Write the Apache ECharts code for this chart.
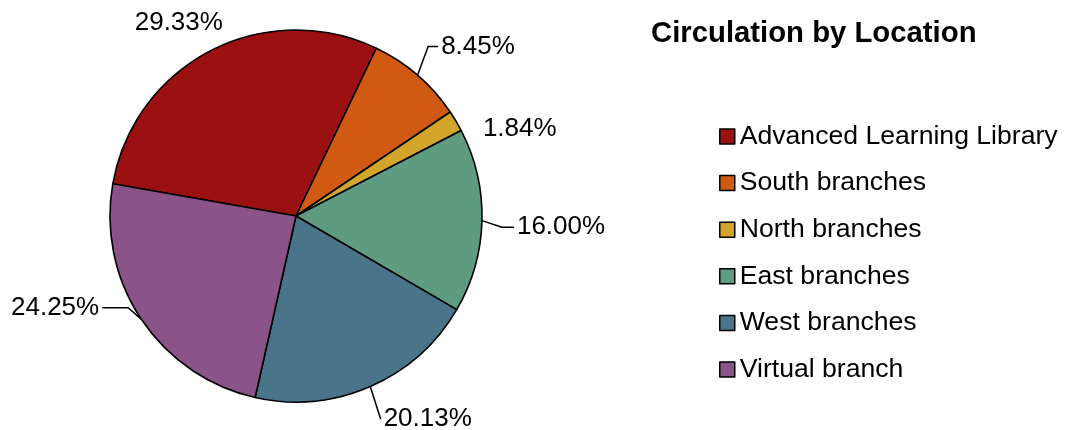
<!DOCTYPE html>
<html>
<head>
<meta charset="utf-8">
<title>Circulation by Location</title>
<script src="https://cdn.jsdelivr.net/npm/echarts@6/dist/echarts.min.js"></script>
<style>
  html, body { margin: 0; padding: 0; background: #ffffff; }
  #chart { width: 1065px; height: 430px; }
</style>
</head>
<body>
<div id="chart"></div>
<script>
// Share of circulation by location (percent)
const locations = [
  'Advanced Learning Library',
  'South branches',
  'North branches',
  'East branches',
  'West branches',
  'Virtual branch'
];
const shares = [29.33, 8.45, 1.84, 16.00, 20.13, 24.25];
const sliceColors = ['#9B1111', '#D05A11', '#D3A52A', '#5F9B80', '#4A7489', '#8B5488'];

// Leader line settings per slice: [show, length, length2]
const leaders = [
  [false, 22, 0],
  [true, 30, 10],
  [false, 22, 0],
  [true, 20, 12],
  [true, 31, 0],
  [true, 12, 26]
];

// Small label nudges per slice: [dx, dy]
const labelNudges = [
  [25, -8],
  [-9, -6],
  [5, 19],
  [0, 6],
  [-2, 4],
  [-3, -18]
];

const FONT = 'Arial, "Liberation Sans", Helvetica, sans-serif';
const LINE_GAP = 3;

const chart = echarts.init(document.getElementById('chart'), null, { renderer: 'canvas' });

// Re-route a leader line so it ends at the nudged label: keep the point on the
// slice edge, then run a horizontal tail of length2 into the label's side.
function layoutLabel(params) {
  const i = params.dataIndex;
  const n = labelNudges[i];
  const out = { dx: n[0], dy: n[1] };
  const pts = params.labelLinePoints;
  if (leaders[i][0] && pts && pts.length) {
    const r = params.labelRect;
    const onRight = pts[0][0] < r.x + r.width / 2;
    const y = r.y + n[1] + r.height / 2;
    const endX = onRight ? r.x + n[0] - LINE_GAP : r.x + r.width + n[0] + LINE_GAP;
    const midX = onRight ? endX - leaders[i][2] : endX + leaders[i][2];
    out.labelLinePoints = [[pts[0][0], pts[0][1]], [midX, y], [endX, y]];
  }
  return out;
}

chart.setOption({
  animation: false,
  backgroundColor: '#ffffff',
  title: {
    text: 'Circulation by Location',
    left: 651,
    top: 19,
    padding: 0,
    textStyle: { fontFamily: FONT, fontSize: 29.3, fontWeight: 'bold', color: '#000000' }
  },
  legend: {
    orient: 'vertical',
    left: 719,
    top: 123,
    padding: 0,
    itemWidth: 15,
    itemHeight: 15,
    itemGap: 19.6,
    icon: 'rect',
    selectedMode: false,
    data: locations,
    textStyle: { fontFamily: FONT, fontSize: 26.6, color: '#000000' },
    itemStyle: { borderColor: '#000000', borderWidth: 1.5 }
  },
  series: [{
    type: 'pie',
    center: [296, 216],
    radius: 186,
    startAngle: 170,
    clockwise: true,
    avoidLabelOverlap: false,
    itemStyle: { borderColor: '#000000', borderWidth: 1.6 },
    label: {
      show: true,
      position: 'outside',
      fontFamily: FONT,
      fontSize: 26,
      color: '#000000',
      distanceToLabelLine: LINE_GAP,
      formatter: p => p.value.toFixed(2) + '%'
    },
    labelLine: { lineStyle: { color: '#000000', width: 1.5 } },
    labelLayout: layoutLabel,
    data: locations.map((name, i) => ({
      name: name,
      value: shares[i],
      itemStyle: { color: sliceColors[i] },
      labelLine: { show: leaders[i][0], length: leaders[i][1], length2: leaders[i][2] }
    }))
  }]
});
</script>
</body>
</html>
